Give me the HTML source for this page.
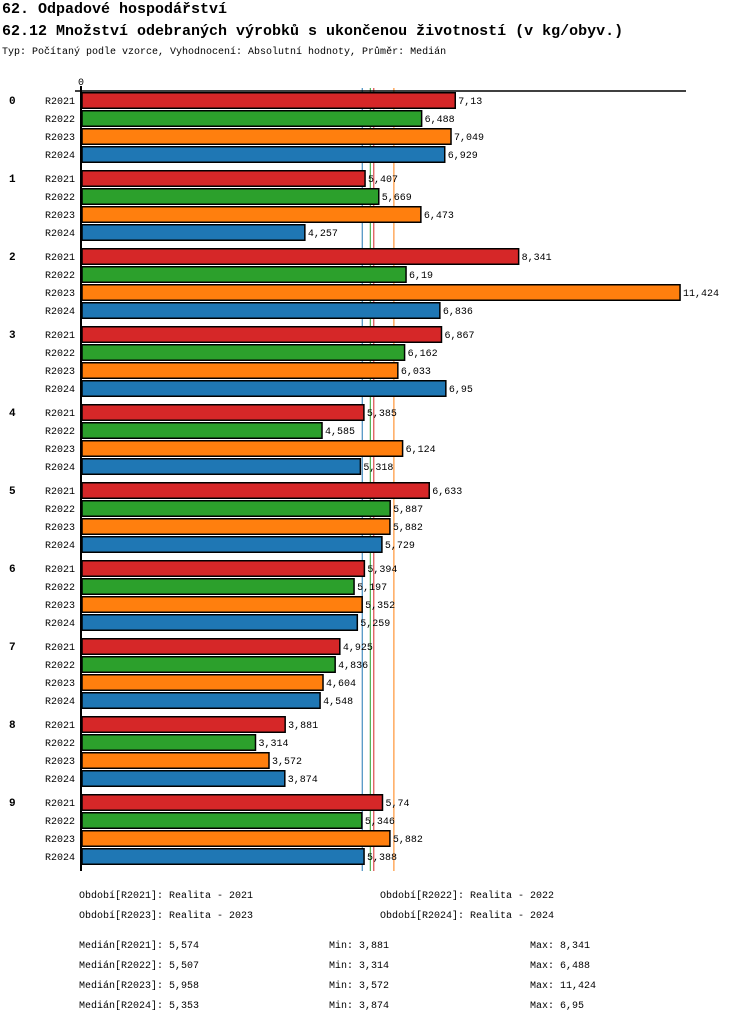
<!DOCTYPE html>
<html><head><meta charset="utf-8"><style>
body{margin:0;background:#fff;width:750px;height:1022px;overflow:hidden}
svg text{font-family:"Liberation Mono","DejaVu Sans Mono",monospace}
</style></head><body>
<svg id="chart" width="750" height="1022" xmlns="http://www.w3.org/2000/svg">
<text x="2" y="13" font-size="15" font-weight="bold">62. Odpadové hospodářství</text>
<text x="2" y="35" font-size="15" font-weight="bold">62.12 Množství odebraných výrobků s ukončenou životností (v kg/obyv.)</text>
<text x="2" y="54" font-size="10">Typ: Počítaný podle vzorce, Vyhodnocení: Absolutní hodnoty, Průměr: Medián</text>
<text x="78" y="85" font-size="10">0</text>
<g id="medians"></g>
<g id="bars"></g>
<line x1="75" y1="91" x2="686" y2="91" stroke="#000" stroke-width="1.5"/>
<line x1="81" y1="86" x2="81" y2="871" stroke="#000" stroke-width="2"/>
<g font-size="10">
<text x="79" y="898">Období[R2021]: Realita - 2021</text>
<text x="380" y="898">Období[R2022]: Realita - 2022</text>
<text x="79" y="918">Období[R2023]: Realita - 2023</text>
<text x="380" y="918">Období[R2024]: Realita - 2024</text>
<text x="79" y="948">Medián[R2021]: 5,574</text>
<text x="329" y="948">Min: 3,881</text>
<text x="530" y="948">Max: 8,341</text>
<text x="79" y="968">Medián[R2022]: 5,507</text>
<text x="329" y="968">Min: 3,314</text>
<text x="530" y="968">Max: 6,488</text>
<text x="79" y="988">Medián[R2023]: 5,958</text>
<text x="329" y="988">Min: 3,572</text>
<text x="530" y="988">Max: 11,424</text>
<text x="79" y="1008">Medián[R2024]: 5,353</text>
<text x="329" y="1008">Min: 3,874</text>
<text x="530" y="1008">Max: 6,95</text>
</g>
</svg>
<script>
const categories = ["0","1","2","3","4","5","6","7","8","9"];
const seriesNames = ["R2021","R2022","R2023","R2024"];
const r2021 = [7.13,5.407,8.341,6.867,5.385,6.633,5.394,4.925,3.881,5.74];
const r2022 = [6.488,5.669,6.19,6.162,4.585,5.887,5.197,4.836,3.314,5.346];
const r2023 = [7.049,6.473,11.424,6.033,6.124,5.882,5.352,4.604,3.572,5.882];
const r2024 = [6.929,4.257,6.836,6.95,5.318,5.729,5.259,4.548,3.874,5.388];
const medians = [5.574,5.507,5.958,5.353];
const colors = ["#d62728","#2ca02c","#ff7f0e","#1f77b4"];
const series = [r2021,r2022,r2023,r2024];
const NS="http://www.w3.org/2000/svg";
const x0=82, scale=52.35;
const xs=v=>x0+v*scale;
const groupY=i=>92+i*78;
const barY=(i,s)=>groupY(i)+s*18;
const fmt=v=>String(v).replace('.',',');
const gb=document.getElementById('bars');
function mk(tag,attrs){const e=document.createElementNS(NS,tag);for(const k in attrs)e.setAttribute(k,attrs[k]);return e;}
categories.forEach((c,i)=>{
  const gl=mk('text',{x:9,y:groupY(i)+12,'font-size':11,'font-weight':'bold'});
  gl.textContent=c;
  
  
  gb.appendChild(gl);
  series.forEach((arr,s)=>{
    const y=barY(i,s);
    const sl=mk('text',{x:75,y:y+12,'font-size':10,'text-anchor':'end'});
    sl.textContent=seriesNames[s];
    
    
    gb.appendChild(sl);
    const r=mk('rect',{x:x0,y:y+0.75,width:xs(arr[i])-x0,height:15.5,fill:colors[s],stroke:'#000','stroke-width':1.5});
    
    
    gb.appendChild(r);
    const vl=mk('text',{x:xs(arr[i])+3,y:y+12,'font-size':10});
    vl.textContent=fmt(arr[i]);
    
    
    gb.appendChild(vl);
  });
});
const gm=document.getElementById('medians');
medians.forEach((m,s)=>{
  const l=mk('line',{x1:xs(m),x2:xs(m),y1:88,y2:871,stroke:colors[s],'stroke-width':1});
  
  
  gm.appendChild(l);
});
</script>
</body></html>
